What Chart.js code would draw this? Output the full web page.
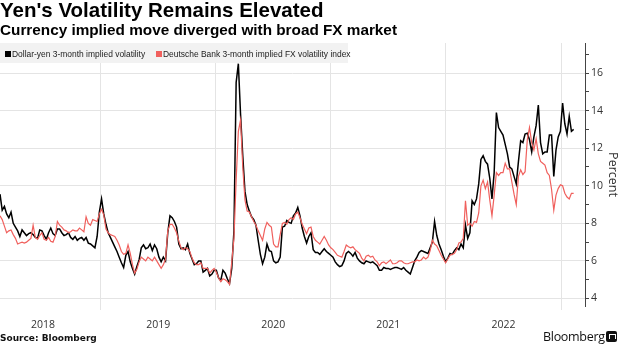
<!DOCTYPE html>
<html>
<head>
<meta charset="utf-8">
<script src="https://cdn.jsdelivr.net/npm/chart.js@4.4.1/dist/chart.umd.min.js"></script>
<style>
  html, body { margin: 0; padding: 0; background: #fff; }
  #wrap { position: relative; width: 620px; height: 348px; overflow: hidden; }
  #chart { position: absolute; left: 0; top: 0; }
  .txt { position: absolute; white-space: nowrap; color: #000; z-index: 2; }
  #title { left: 0; top: -2px; font: bold 20.5px "Liberation Sans", Arial, sans-serif; }
  #subtitle { left: 0; top: 21px; font: bold 15.3px "Liberation Sans", Arial, sans-serif; }
  #legend { position: absolute; left: 0; top: 43px; width: 348px; height: 20px; background: #f2f2f2; z-index: 2;
            font: 9.4px "Liberation Sans", Arial, sans-serif; color: #222; }
  .sw { position: absolute; top: 8px; width: 6px; height: 6px; }
  .lt { position: absolute; top: 4.5px; white-space: nowrap; transform: scaleX(0.9); transform-origin: 0 50%; }
  #source { left: 0; top: 333px; font: bold 9px "DejaVu Sans", sans-serif; color: #111; }
  #brand { left: 543px; top: 328px; font: 500 12.5px "Open Sans", sans-serif; color: #111; letter-spacing: -0.3px; }
  #logo { position: absolute; left: 606px; top: 331px; width: 11px; height: 11px; background: #111; border-radius: 2px; z-index: 2; }
  #logo i { position: absolute; left: 3px; top: 3px; width: 5px; height: 4px; border: 1px solid #fff; border-bottom: 0; }
</style>
</head>
<body>
<div id="wrap">
  <canvas id="chart" width="620" height="348"></canvas>
  <div class="txt" id="title">Yen's Volatility Remains Elevated</div>
  <div class="txt" id="subtitle">Currency implied move diverged with broad FX market</div>
  <div id="legend">
    <span class="sw" style="left:5px;background:#000"></span>
    <span class="lt" style="left:12px">Dollar-yen 3-month implied volatility</span>
    <span class="sw" style="left:156px;background:#f0605d"></span>
    <span class="lt" style="left:163px">Deutsche Bank 3-month implied FX volatility index</span>
  </div>
  <div class="txt" id="source">Source: Bloomberg</div>
  <div class="txt" id="brand">Bloomberg</div>
  <div id="logo"><i></i></div>
</div>
<script>
// Weekly observations (Fridays), first week and axis span
const firstWeek = '2018-02-16';
const axisStart = '2018-02-16';
const axisEnd = '2023-03-18';

// Dollar-yen 3-month implied volatility, percent
const usdJpyVol = [
  9.55, 8.7, 8.9, 8.5, 8.3, 8.6, 8.0, 7.8, 7.6, 7.3, 7.65, 7.5, 7.35, 7.45, 7.5, 7.4, 7.25, 7.2, 7.65, 7.6,
  7.35, 7.15, 7.5, 7.75, 7.45, 7.35, 7.7, 7.7, 7.5, 7.35, 7.4, 7.5, 7.25, 7.15, 7.3, 7.1, 7.2, 7.25, 7.1, 7.25,
  6.95, 6.9, 6.8, 6.7, 7.3, 8.6, 9.3, 8.5, 7.95, 7.5, 7.25, 7.0, 6.75, 6.5, 6.2, 5.9, 5.65, 6.3, 6.5, 5.95,
  5.6, 5.3, 5.7, 6.05, 6.7, 6.85, 6.65, 6.7, 6.9, 6.55, 6.85, 6.65, 6.2, 5.95, 6.2, 6.0, 7.5, 8.4, 8.3, 8.1,
  7.8, 6.9, 6.65, 6.7, 6.6, 6.9, 6.4, 6.1, 5.8, 5.85, 6.0, 6.0, 5.4, 5.5, 5.6, 5.2, 5.3, 5.5, 5.5, 5.1,
  4.95, 5.5, 5.35, 5.05, 4.8, 5.6, 7.6, 15.5, 16.5, 13.8, 11.6, 9.7, 9.0, 8.65, 8.35, 8.2, 7.9, 7.1, 6.35, 5.85,
  6.2, 6.9, 6.55, 6.5, 6.0, 5.9, 5.95, 6.2, 7.8, 7.85, 8.15, 8.05, 8.0, 8.4, 8.55, 8.85, 8.4, 7.75, 7.3, 6.95,
  7.3, 7.5, 6.6, 6.45, 6.45, 6.35, 6.5, 6.65, 6.5, 6.4, 6.3, 6.2, 5.95, 5.8, 5.7, 5.75, 6.0, 6.4, 6.5, 6.4,
  6.25, 6.45, 6.15, 6.0, 5.9, 5.85, 6.0, 5.95, 5.9, 5.95, 5.85, 5.75, 5.5, 5.5, 5.65, 5.6, 5.6, 5.55, 5.6, 5.65,
  5.65, 5.6, 5.55, 5.65, 5.5, 5.4, 5.3, 5.65, 6.0, 6.2, 6.45, 6.55, 6.5, 6.45, 6.4, 6.7, 7.0, 8.1, 7.35, 6.9,
  6.6, 6.25, 5.95, 6.15, 6.4, 6.35, 6.55, 6.7, 6.6, 6.9, 6.7, 7.9, 7.2, 7.5, 9.2, 9.0, 9.3, 10.1, 11.4, 11.6,
  11.3, 11.15, 10.4, 9.3, 10.7, 13.9, 13.1, 12.9, 12.7, 12.2, 11.7, 11.0, 10.9, 10.5, 10.1, 11.3, 12.4, 12.3, 12.75, 12.8,
  12.45, 11.8, 12.6, 13.2, 14.3, 12.3, 11.7, 11.8, 11.8, 12.7, 12.7, 10.5, 11.9, 12.6, 12.9, 14.4, 13.3, 12.75, 13.7, 12.9,
  13.0
];

// Deutsche Bank 3-month implied FX volatility index, percent
const dbFxVol = [
  8.4, 8.2, 7.85, 7.5, 7.6, 7.65, 7.4, 7.2, 6.9, 6.95, 7.0, 6.95, 7.0, 7.1, 7.2, 7.9, 7.25, 7.15, 7.35, 7.5,
  7.15, 7.1, 7.25, 7.05, 7.0, 7.3, 8.1, 7.9, 7.8, 7.65, 7.6, 7.5, 7.55, 7.65, 7.6, 7.6, 7.75, 7.65, 7.55, 8.35,
  8.0, 7.9, 8.2, 8.15, 8.1, 8.5, 8.75, 8.45, 7.7, 7.5, 7.4, 7.35, 7.3, 7.1, 6.85, 6.5, 6.35, 6.4, 6.85, 6.4,
  5.8, 5.35, 5.55, 5.95, 6.2, 6.1, 6.0, 6.2, 6.1, 6.0, 6.2, 6.0, 5.8, 5.6, 5.8, 6.1, 7.6, 7.95, 7.95, 7.75,
  7.5, 7.05, 6.7, 6.6, 6.7, 6.65, 6.5, 6.15, 5.9, 5.8, 5.8, 5.9, 5.6, 5.6, 5.6, 5.35, 5.5, 5.6, 5.4, 5.1,
  4.9, 5.05, 5.0, 4.9, 4.75, 5.95, 7.2, 10.3, 12.9, 13.5, 11.0, 9.25, 8.65, 8.6, 8.35, 8.1, 7.9, 7.6, 7.35, 7.1,
  7.7, 8.05, 7.9, 7.8, 6.9, 6.75, 6.75, 7.4, 8.0, 8.05, 7.95, 8.2, 8.3, 8.2, 8.5, 8.6, 8.3, 7.95, 7.7, 7.45,
  7.75, 7.8, 7.3, 7.1, 7.0, 6.9, 7.1, 7.3, 7.1, 6.85, 6.7, 6.6, 6.45, 6.3, 6.25, 6.2, 6.5, 6.85, 6.75, 6.7,
  6.75, 6.6, 6.5, 6.4, 6.15, 6.0, 6.25, 6.3, 6.2, 6.25, 6.05, 5.95, 5.75, 5.9, 5.95, 5.85, 5.95, 6.05, 5.85, 5.85,
  5.9, 6.0, 6.0, 5.9, 5.85, 5.85, 5.9, 5.95, 5.95, 6.05, 6.0, 6.05, 6.2, 6.1, 6.2, 6.55, 7.1, 6.9, 6.8, 6.55,
  6.3, 6.1, 5.9, 6.1, 6.3, 6.35, 6.4, 6.6, 6.95, 7.0, 7.2, 9.2, 7.9, 8.0, 7.85, 8.1, 8.05, 8.55, 10.0, 10.3,
  9.85, 10.2, 9.25, 8.4, 9.5, 10.7, 10.55, 10.7, 10.7, 11.2, 10.9, 10.9, 10.2, 9.55, 9.0, 10.5, 10.85, 10.6, 10.75, 12.45,
  13.1, 12.3, 11.9, 12.5, 11.7, 11.3, 11.2, 11.1, 10.7, 10.55, 9.8, 8.7, 9.5, 9.85, 10.05, 10.0, 9.6, 9.4, 9.3, 9.6,
  9.6
];

// Year labels sit mid-year; grid lines mark the turn of each year
const yearLabels = ['2018', '2019', '2020', '2021', '2022'];
const percentTicks = [4, 6, 8, 10, 12, 14, 16];

const DAY = 86400000;
function toDecimalYear(ms) {
  const d = new Date(ms);
  const y = d.getUTCFullYear();
  const s = Date.UTC(y, 0, 1), e = Date.UTC(y + 1, 0, 1);
  return y + (ms - s) / (e - s);
}
const weekStart = Date.parse(firstWeek + 'T00:00:00Z');
const weekX = (i) => toDecimalYear(weekStart + i * 7 * DAY);
const toPoints = (vals) => vals.map((v, i) => ({ x: weekX(i), y: v }));

const xMin = toDecimalYear(Date.parse(axisStart + 'T00:00:00Z'));
const xMax = toDecimalYear(Date.parse(axisEnd + 'T00:00:00Z'));

const isWhole = (v) => Math.abs(v - Math.round(v)) < 1e-6;

new Chart(document.getElementById('chart'), {
  type: 'line',
  data: {
    datasets: [
      { label: 'Dollar-yen 3-month implied volatility', data: toPoints(usdJpyVol),
        borderColor: '#000', borderWidth: 1.5, pointRadius: 0, tension: 0, order: 1 },
      { label: 'Deutsche Bank 3-month implied FX volatility index', data: toPoints(dbFxVol),
        borderColor: '#f0605d', borderWidth: 1.2, pointRadius: 0, tension: 0, order: 0 }
    ]
  },
  options: {
    responsive: false,
    animation: false,
    devicePixelRatio: 1,
    layout: { padding: { top: 43, left: 0, right: 0, bottom: 0 } },
    plugins: { legend: { display: false }, tooltip: { enabled: false } },
    scales: {
      x: {
        type: 'linear',
        min: xMin, max: xMax,
        afterBuildTicks: (s) => {
          const t = [];
          yearLabels.forEach((y) => { t.push({ value: +y + 0.5 }); t.push({ value: +y + 1 }); });
          s.ticks = t;
        },
        afterFit: (s) => { s.height = 42; },
        border: { display: false },
        grid: {
          color: (c) => (c.tick && isWhole(c.tick.value)) ? '#e4e4e4' : 'rgba(0,0,0,0)',
          lineWidth: 1, drawTicks: true, tickLength: 4
        },
        ticks: {
          maxRotation: 0, autoSkip: false, padding: 9,
          color: '#333', font: { family: 'Open Sans', size: 10.5 },
          callback: (v) => isWhole(v) ? '' : String(Math.floor(v))
        }
      },
      y: {
        position: 'right',
        min: 3.6, max: 17.6,
        afterBuildTicks: (s) => {
          const t = [];
          for (let v = 4; v <= 17; v++) t.push({ value: v });
          s.ticks = t;
        },
        afterFit: (s) => { s.width = 35; },
        border: { display: true, color: '#444', width: 1 },
        grid: {
          color: (c) => (c.tick && percentTicks.includes(c.tick.value)) ? '#e4e4e4' : 'rgba(0,0,0,0)',
          tickColor: '#444', drawTicks: true, tickLength: 4, lineWidth: 1
        },
        ticks: {
          padding: 2, color: '#333', font: { family: 'Open Sans', size: 10.5 },
          callback: (v) => percentTicks.includes(v) ? String(v) : ''
        },
        title: {
          display: true, text: 'Percent', color: '#333',
          font: { family: 'Open Sans', size: 12.5 }, padding: 0
        }
      }
    }
  }
});
</script>
</body>
</html>
